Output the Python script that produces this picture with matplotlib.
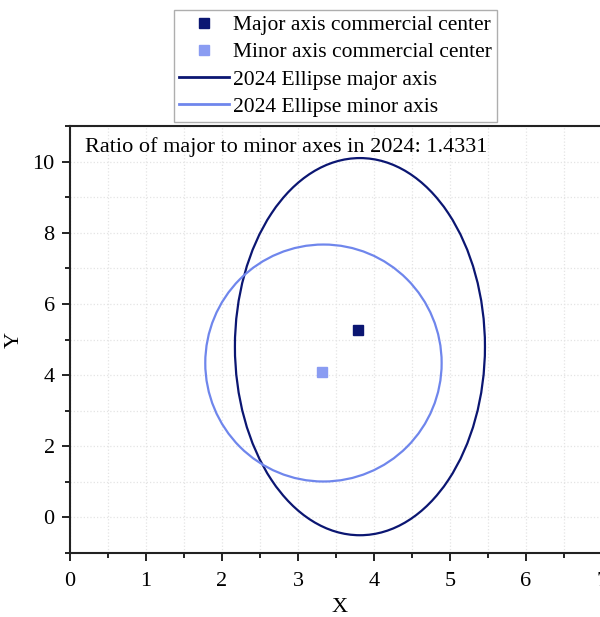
import numpy as np
import matplotlib
matplotlib.use("Agg")
import matplotlib.pyplot as plt
from matplotlib.patches import Ellipse
from matplotlib.lines import Line2D
from matplotlib.ticker import MultipleLocator

plt.rcParams['font.family'] = ['Liberation Serif', 'DejaVu Serif']

# 数据
major_center = (3.79, 5.28)
minor_center = (3.32, 4.10)
major_ellipse = dict(xy=(3.815, 4.8), width=3.29, height=10.6, angle=0.0)
minor_ellipse = dict(xy=(3.335, 4.34), width=3.11, height=6.66, angle=0.0)
ratio_text = "Ratio of major to minor axes in 2024: 1.4331"
labels = ["Major axis commercial center", "Minor axis commercial center",
          "2024 Ellipse major axis", "2024 Ellipse minor axis"]

dark = '#0b1672'
light = '#6f86ec'
light_pt = '#8a9cf2'

fig = plt.figure(figsize=(6, 6.17), dpi=100)
ax = fig.add_axes([70 / 600, 0.1037, 539.6 / 600, 0.692])

ax.add_patch(Ellipse(**major_ellipse, fill=False, edgecolor=dark, lw=1.6, zorder=3))
ax.add_patch(Ellipse(**minor_ellipse, fill=False, edgecolor=light, lw=1.6, zorder=3))
ax.plot(*major_center, 's', color=dark, ms=6.5, zorder=4)
ax.plot(*minor_center, 's', color=light_pt, ms=6.5, zorder=4)

ax.set_xlim(0, 7.1)
ax.set_ylim(-1, 11)
ax.xaxis.set_major_locator(MultipleLocator(1))
ax.xaxis.set_minor_locator(MultipleLocator(0.5))
ax.yaxis.set_major_locator(MultipleLocator(2))
ax.yaxis.set_minor_locator(MultipleLocator(1))
ax.grid(True, which='both', color='#e4e4e4', ls=':', lw=0.9, zorder=0)
ax.set_axisbelow(True)

ax.tick_params(which='major', direction='out', length=6, width=1.4, labelsize=16, color='#222222', pad=5)
ax.tick_params(axis='x', which='major', pad=8)
ax.tick_params(which='minor', direction='out', length=3.5, width=1.4, color='#222222')
for s in ax.spines.values():
    s.set_linewidth(1.5)
    s.set_color('#222222')

ax.set_xlabel('X', fontsize=16, labelpad=5)
ax.set_ylabel('Y', fontsize=16, labelpad=6)

ax.text(0.028, 0.975, ratio_text, transform=ax.transAxes, ha='left', va='top', fontsize=16)

handles = [
    Line2D([], [], ls='none', marker='s', color=dark, ms=6.5),
    Line2D([], [], ls='none', marker='s', color=light_pt, ms=6.5),
    Line2D([], [], color=dark, lw=2),
    Line2D([], [], color=light, lw=2),
]
leg = fig.legend(handles, labels, loc='upper left', bbox_to_anchor=(0.29, 0.984),
                 fontsize=15.5, frameon=True, fancybox=False, edgecolor='#9a9a9a',
                 handlelength=2.3, handletextpad=0.2, labelspacing=0.33,
                 borderpad=0.25, borderaxespad=0)
leg.get_frame().set_linewidth(1.0)

fig.savefig('out.png', dpi=100)
